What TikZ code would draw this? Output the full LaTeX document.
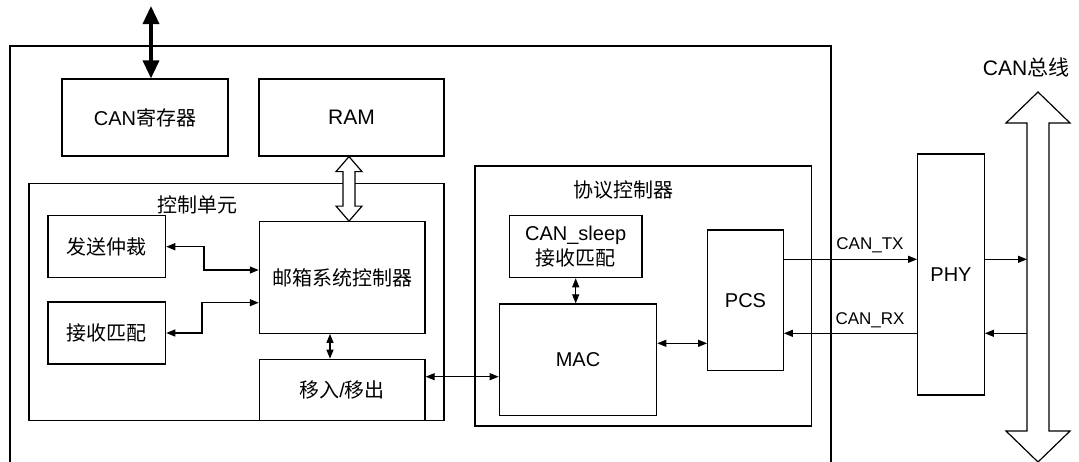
\documentclass[tikz,border=0pt]{standalone}
\usepackage{fontspec}
\setmainfont{Liberation Sans}
\newfontfamily\cjk{Noto Sans CJK SC}
\usetikzlibrary{arrows.meta,calc}
\begin{document}
\begin{tikzpicture}[x=1pt,y=-1pt,
  myT/.tip={Triangle[length=9pt,width=7pt]},
  bigT/.tip={Triangle[length=18pt,width=16pt]},
  box/.style={draw,line width=1.2pt,inner sep=0pt,align=center,font=\fontsize{20}{25}\selectfont},
  lbl/.style={inner sep=0pt,font=\fontsize{20}{24}\selectfont},
  sig/.style={inner sep=0pt,font=\fontsize{17}{20}\selectfont},
  arr/.style={line width=1.2pt,-myT},
  darr/.style={line width=1.2pt,myT-myT},
  plain/.style={line width=1.2pt},
  hollow/.style={line width=1.2pt,fill=white}]
\useasboundingbox (0,0) rectangle (1079,461);
% outer frame
\draw[plain] (10,466) -- (10,46) -- (831,46) -- (831,466);
% containers
\node[box,minimum width=415pt,minimum height=237pt] (ctrl) at (236.5,302) {};
\node[lbl] (ctrllbl) at (197,205) {\cjk 控制单元};
\node[box,minimum width=336.7pt,minimum height=260pt] (proto) at (643.3,296) {};
\node[lbl] (protolbl) at (623,190) {\cjk 协议控制器};
% blocks
\node[box,minimum width=166pt,minimum height=77pt] (canreg) at (145,117.5) {CAN{\cjk 寄存器}};
\node[box,minimum width=185pt,minimum height=77pt,font=\fontsize{21}{25}\selectfont] (ram) at (351.5,117.5) {RAM};
\node[box,minimum width=117.7pt,minimum height=62pt] (arb) at (106.8,246.7) {\cjk 发送仲裁};
\node[box,minimum width=117.7pt,minimum height=62pt] (rmatch) at (106.8,333) {\cjk 接收匹配};
\node[box,minimum width=165.7pt,minimum height=111.6pt] (mbox) at (342.2,277.5) {\cjk 邮箱系统控制器};
\node[box,minimum width=165.7pt,minimum height=61.2pt] (io) at (342.2,389.9) {{\cjk 移入}/{\cjk 移出}};
\node[box,minimum width=132.7pt,minimum height=62pt] (sleep) at (575.7,246.7) {CAN\_sleep\\{\cjk 接收匹配}};
\node[box,minimum width=157.4pt,minimum height=111.7pt] (mac) at (578,359.8) {MAC};
\node[box,minimum width=75.6pt,minimum height=140.7pt] (pcs) at (745.5,300.3) {PCS};
\node[box,minimum width=66.6pt,minimum height=241pt] (phy) at (951,274.5) {PHY};
% external thick arrow
\coordinate (ext) at (151,6);
\draw[line width=3.5pt,bigT-bigT] (ext) -- (ext |- canreg.north);
% RAM <-> mailbox hollow arrow
\coordinate (ramA) at ($(ram.south)+(-2.5,0)$);
\coordinate (ramB) at (ramA |- mbox.north);
\draw[hollow] (ramA) -- ++(13,15) -- ++(-7,0) -- ($(ramB)+(6,-15)$) -- ++(7,0) -- (ramB)
  -- ++(-13,-15) -- ++(7,0) -- ($(ramA)+(-6,15)$) -- ++(-7,0) -- cycle;
% control unit connectors
\draw[darr] (arb.east) -- (204,246.7) -- (204,270) -- (mbox.west |- 0,270);
\draw[darr] (rmatch.east) -- (202,333) -- (202,302.7) -- (mbox.west |- 0,302.7);
\draw[darr] (mbox.south -| 330,0) -- (io.north -| 330,0);
\draw[darr] (io.east |- 0,376.7) -- (mac.west |- 0,376.7);
% protocol controller connectors
\draw[darr] (sleep.south) -- (sleep.south |- mac.north);
\draw[darr] (mac.east |- 0,343.3) -- (pcs.west |- 0,343.3);
% TX / RX
\coordinate (tx) at (0,259.3);
\coordinate (rx) at (0,333.3);
\draw[arr] (pcs.east |- tx) -- (phy.west |- tx);
\draw[arr] (phy.west |- rx) -- (pcs.east |- rx);
\node[sig] (txlbl) at (870,245.5) {CAN\_TX};
\node[sig] (rxlbl) at (870,320) {CAN\_RX};
% CAN bus
\coordinate (busT) at (1038,92);
\coordinate (busB) at (1038,462);
\draw[hollow] (busT) -- ++(32,31) -- ++(-21,0) -- ($(busB)+(11,-31)$) -- ++(21,0) -- (busB)
  -- ++(-32,-31) -- ++(21,0) -- ($(busT)+(-11,31)$) -- ++(-21,0) -- cycle;
\node[lbl,font=\fontsize{21}{24}\selectfont] (buslbl) at (1026,67) {CAN{\cjk 总线}};
\coordinate (busL) at (1027,0);
\draw[arr] (phy.east |- tx) -- (busL |- tx);
\draw[arr] (busL |- rx) -- (phy.east |- rx);
\end{tikzpicture}
\end{document}
